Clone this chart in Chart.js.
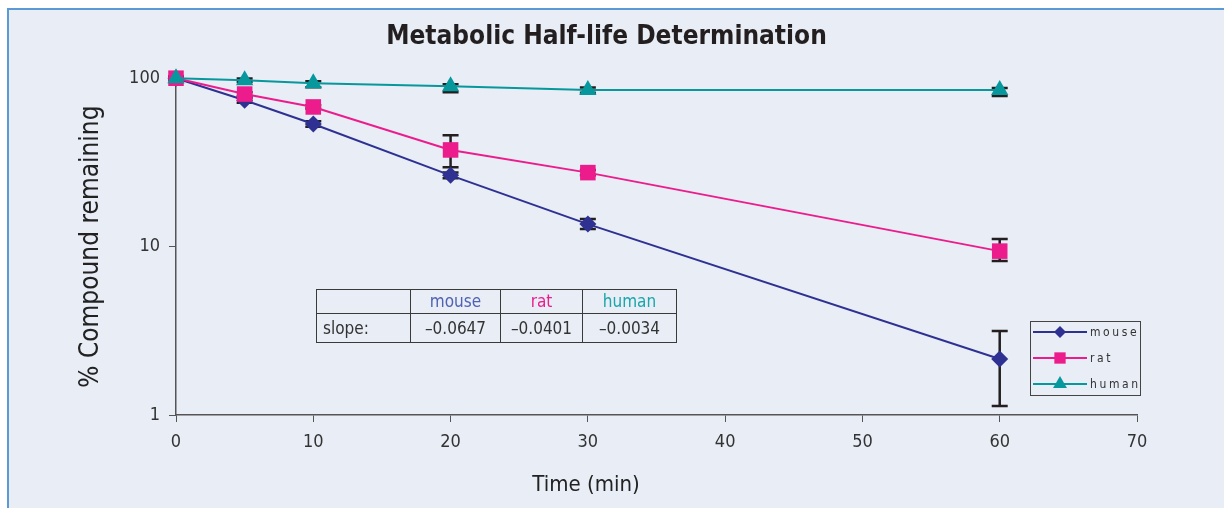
<!DOCTYPE html>
<html lang="en">
<head>
<meta charset="UTF-8">
<title>Metabolic Half-life Determination</title>
<script src="https://cdn.jsdelivr.net/npm/chart.js"></script>
<style>
  body { margin: 0; background: #fff; overflow: hidden; }
  .frame {
    position: absolute; left: 7px; top: 8px; width: 1300px; height: 560px;
    background: #e8edf6; border-left: 2px solid #5b9bd5; border-top: 2px solid #5b9bd5;
    box-sizing: border-box;
  }
  #wrap { position: absolute; left: 0; top: 0; width: 1224px; height: 508px; }
  .slopes {
    position: absolute; left: 316px; top: 289px; border-collapse: collapse;
    font-family: "DejaVu Sans Condensed", "Liberation Sans Narrow", sans-serif;
    font-size: 17px; color: #333;
  }
  .slopes td { border: 1.5px solid #3a3a3a; padding: 0 6px; text-align: center; line-height: 1; }
  .slopes tr.head td { height: 23px; }
  .slopes tr.vals td { height: 28px; }
</style>
</head>
<body>
<div class="frame"></div>
<div id="wrap"><canvas id="halfLife"></canvas></div>
<table class="slopes" id="slopeTable"></table>

<script>
  // tempo (min) e % remanescente
  const times = [0, 5, 10, 20, 30, 60];
  const mouse = [100, 74, 53.5, 26.5, 13.6, 2.15];
  const rat = [100, 80.5, 67.5, 37.5, 27.5, 9.4];
  const human = [100, 97.3, 93.4, 89.6, 85, 85];

  // barras de erro [baixo, alto]
  const mouseErr = [[98, 102], [71.5, 76.5], [51.5, 55.5], [25.5, 27.5], [12.7, 14.6], [1.13, 3.15]];
  const ratErr = [[98, 102], [78.5, 82.5], [66, 69], [29.6, 45.9], [26.5, 28.5], [8.2, 11.1]];
  const humanErr = [[98, 102], [95, 99.5], [88.4, 96], [82.6, 92.1], [82, 88], [78.5, 87.5]];

  const seriesNames = ['mouse', 'rat', 'human'];
  const slopes = ['\u20130.0647', '\u20130.0401', '\u20130.0034'];
  const xTicks = [0, 10, 20, 30, 40, 50, 60, 70];
  const yTicks = [1, 10, 100];

  const colors = ['#2e3192', '#ec1c8c', '#06989c'];
  const textColors = ['#4f62b3', '#ec1c8c', '#1aa6ab'];
  const styles = ['rectRot', 'rect', 'triangle'];
  const radii = [8.5, 11, 10];
  const FONT = '"DejaVu Sans Condensed", "Liberation Sans Narrow", sans-serif';

  // tabela de inclinações
  const tabela = document.getElementById('slopeTable');
  let head = '<tr class="head"><td style="width:81px"></td>';
  let vals = '<tr class="vals"><td style="text-align:left">slope:</td>';
  const larguras = [77, 69, 81];
  for (let i = 0; i < seriesNames.length; i++) {
    head += `<td style="width:${larguras[i]}px;color:${textColors[i]}">${seriesNames[i]}</td>`;
    vals += `<td>${slopes[i]}</td>`;
  }
  tabela.innerHTML = head + '</tr>' + vals + '</tr>';

  function pontos(valores) {
    return times.map((t, i) => ({ x: t, y: valores[i] }));
  }

  const erros = [mouseErr, ratErr, humanErr];

  const errorBars = {
    id: 'errorBars',
    beforeDatasetsDraw(chart) {
      const ctx = chart.ctx;
      const x = chart.scales.x, y = chart.scales.y;
      ctx.save();
      ctx.strokeStyle = '#231f20';
      ctx.lineWidth = 2.5;
      erros.forEach(lista => {
        lista.forEach((e, i) => {
          const px = x.getPixelForValue(times[i]);
          const lo = y.getPixelForValue(e[0]);
          const hi = y.getPixelForValue(e[1]);
          ctx.beginPath();
          ctx.moveTo(px, lo); ctx.lineTo(px, hi);
          ctx.moveTo(px - 8, lo); ctx.lineTo(px + 8, lo);
          ctx.moveTo(px - 8, hi); ctx.lineTo(px + 8, hi);
          ctx.stroke();
        });
      });
      ctx.restore();
    }
  };

  const extras = {
    id: 'extras',
    afterDraw(chart) {
      const ctx = chart.ctx;
      const area = chart.chartArea;
      ctx.save();
      // titulo do eixo x
      ctx.fillStyle = '#222';
      ctx.font = '22px ' + FONT;
      ctx.textAlign = 'center';
      ctx.textBaseline = 'middle';
      ctx.fillText('Time (min)', area.left + 410, 485);

      // legenda
      const bx = area.right - 107, by = 321;
      ctx.fillStyle = '#e8edf6';
      ctx.fillRect(bx, by, 110, 74);
      ctx.strokeStyle = '#444';
      ctx.lineWidth = 1;
      ctx.strokeRect(bx + 0.5, by + 0.5, 110, 74);
      ctx.font = '12px ' + FONT;
      ctx.textAlign = 'left';
      ctx.letterSpacing = '2.6px';
      const legRad = [6, 8, 8];
      seriesNames.forEach((nome, i) => {
        const ly = by + 11 + i * 26;
        ctx.strokeStyle = colors[i];
        ctx.lineWidth = 2;
        ctx.beginPath();
        ctx.moveTo(bx + 3, ly); ctx.lineTo(bx + 57, ly);
        ctx.stroke();
        ctx.fillStyle = colors[i];
        Chart.helpers.drawPoint(ctx, { pointStyle: styles[i], radius: legRad[i], rotation: 0, borderWidth: 0 }, bx + 30, ly);
        ctx.fillStyle = '#333';
        ctx.fillText(nome, bx + 60, ly + 1);
      });
      ctx.restore();
    }
  };

  const conjuntos = [mouse, rat, human].map((valores, i) => ({
    label: seriesNames[i],
    data: pontos(valores),
    borderColor: colors[i],
    backgroundColor: colors[i],
    borderWidth: 2,
    pointStyle: styles[i],
    pointRadius: radii[i],
    pointBorderWidth: 0,
    clip: false,
    order: 3 - i
  }));

  new Chart(document.getElementById('halfLife'), {
    type: 'line',
    data: { datasets: conjuntos },
    options: {
      responsive: true,
      maintainAspectRatio: false,
      animation: false,
      layout: { padding: { left: 76, right: 87, top: 0, bottom: 0 } },
      plugins: {
        legend: { display: false },
        tooltip: { enabled: false },
        title: {
          display: true,
          text: 'Metabolic Half-life Determination',
          color: '#231f20',
          font: { family: FONT, size: 26, weight: 'bold' },
          padding: { top: 22, bottom: 25 }
        }
      },
      scales: {
        x: {
          type: 'linear',
          min: 0, max: 70,
          afterBuildTicks: s => { s.ticks = xTicks.map(v => ({ value: v })); },
          afterFit: s => { s.height = 93; },
          grid: { drawOnChartArea: false, color: '#555', tickLength: 7 },
          border: { color: '#555', width: 1.5 },
          ticks: { color: '#333', font: { family: FONT, size: 18 }, padding: 10, maxRotation: 0 }
        },
        y: {
          type: 'logarithmic',
          min: 1, max: 100,
          afterBuildTicks: s => { s.ticks = yTicks.map(v => ({ value: v })); },
          afterFit: s => { s.width = 100; },
          grid: { drawOnChartArea: false, color: '#555', tickLength: 7 },
          border: { color: '#555', width: 1.5 },
          ticks: { color: '#333', font: { family: FONT, size: 18 }, padding: 9, callback: v => String(v) },
          title: {
            display: true,
            text: '% Compound remaining',
            color: '#222',
            font: { family: FONT, size: 26 },
            padding: { top: 0, bottom: 4 }
          }
        }
      }
    },
    plugins: [errorBars, extras]
  });
</script>
</body>
</html>
